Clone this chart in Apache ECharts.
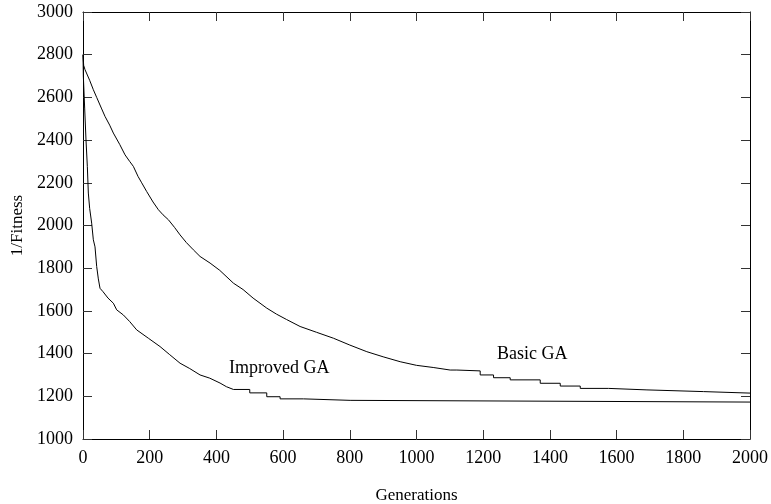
<!DOCTYPE html>
<html>
<head>
<meta charset="utf-8">
<script src="https://cdn.jsdelivr.net/npm/echarts@6/dist/echarts.min.js"></script>
<style>
  html, body { margin: 0; padding: 0; background: #fff; }
  #main { width: 771px; height: 504px; }
</style>
</head>
<body>
<div id="main"></div>
<script>
// generation, 1/fitness; the flat tails keep their stair corners
var basicGA = [
    [0, 2800], [2, 2750], [6, 2730], [20, 2680], [31, 2636], [41, 2600], [55, 2550],
    [66, 2511], [80, 2470], [91, 2433], [110, 2380], [126, 2331], [140, 2300],
    [151, 2277], [165, 2230], [176, 2200], [191, 2159], [210, 2110], [226, 2074],
    [240, 2050], [256, 2027], [275, 1990], [291, 1956], [310, 1920], [331, 1886],
    [351, 1855], [381, 1824], [410, 1790], [451, 1730], [480, 1700], [510, 1660],
    [551, 1613], [580, 1585], [610, 1560], [651, 1527], [700, 1500], [751, 1472],
    [800, 1440], [851, 1409], [900, 1385], [951, 1362], [1000, 1345], [1050, 1335],
    [1101, 1323],
    [1121, 1323], [1121, 1319], [1191, 1319], [1191, 1300], [1231, 1300], [1231, 1287],
    [1281, 1287], [1281, 1277], [1371, 1277], [1371, 1261], [1431, 1261], [1431, 1248],
    [1491, 1248], [1491, 1237], [1576, 1237], [1576, 1230], [1691, 1230], [1691, 1222],
    [1861, 1222], [1861, 1215], [2000, 1215]
];
var improvedGA = [
    [0, 2800], [1, 2700], [5, 2550], [9, 2400], [13, 2277], [16, 2152], [20, 2080],
    [26, 2011], [31, 1933], [36, 1900], [41, 1808], [46, 1750], [51, 1706],
    [60, 1690], [75, 1660], [91, 1636], [101, 1605], [121, 1581], [140, 1550],
    [161, 1511], [196, 1472], [231, 1433], [260, 1395], [291, 1355], [320, 1330],
    [351, 1300], [380, 1285], [411, 1262], [430, 1245], [451, 1232],
    [500, 1232], [500, 1216], [551, 1216], [551, 1198], [591, 1198], [591, 1188],
    [661, 1188], [661, 1181], [801, 1181], [801, 1173], [2000, 1173]
];

var font = 'Liberation Serif';

var myChart = echarts.init(document.getElementById('main'));

function axisBase(show) {
    return {
        axisLine: { show: true, onZero: false, lineStyle: { color: '#000', width: 1 } },
        axisTick: { show: true, inside: true, length: 9, lineStyle: { color: '#333', width: 1 } },
        splitLine: { show: false },
        axisLabel: show ? {
            color: '#000', fontFamily: font, fontSize: 18,
            formatter: function (v) { return String(v); }
        } : { show: false }
    };
}

var xBottom = Object.assign(axisBase(true), {
    type: 'value', position: 'bottom', min: 0, max: 2000, interval: 200,
    name: 'Generations', nameLocation: 'middle', nameGap: 48,
    nameTextStyle: { color: '#000', fontFamily: font, fontSize: 17 }
});
xBottom.axisLabel.margin = 10;
var xTop = Object.assign(axisBase(false), {
    type: 'value', position: 'top', min: 0, max: 2000, interval: 200
});
var yLeft = Object.assign(axisBase(true), {
    type: 'value', position: 'left', min: 1000, max: 3000, interval: 200,
    name: '1/Fitness', nameLocation: 'middle', nameGap: 50, nameRotate: 90,
    nameTextStyle: { color: '#000', fontFamily: font, fontSize: 17 }
});
yLeft.axisLabel.margin = 10;
var yRight = Object.assign(axisBase(false), {
    type: 'value', position: 'right', min: 1000, max: 3000, interval: 200
});

var option = {
    backgroundColor: '#fff',
    animation: false,
    grid: { left: 83, right: 21, top: 12, bottom: 65, outerBoundsMode: 'none' },
    xAxis: [xBottom, xTop],
    yAxis: [yLeft, yRight],
    graphic: [
        { type: 'text', left: 497, top: 345,
          style: { text: 'Basic GA', fill: '#000', font: '18px "Liberation Serif"' } },
        { type: 'text', left: 229, top: 359,
          style: { text: 'Improved GA', fill: '#000', font: '18px "Liberation Serif"' } }
    ],
    series: [
        {
            name: 'Basic GA',
            type: 'line',
            showSymbol: false,
            lineStyle: { color: '#000', width: 1 },
            data: basicGA
        },
        {
            name: 'Improved GA',
            type: 'line',
            showSymbol: false,
            lineStyle: { color: '#000', width: 1 },
            data: improvedGA
        }
    ]
};
myChart.setOption(option);
</script>
</body>
</html>
